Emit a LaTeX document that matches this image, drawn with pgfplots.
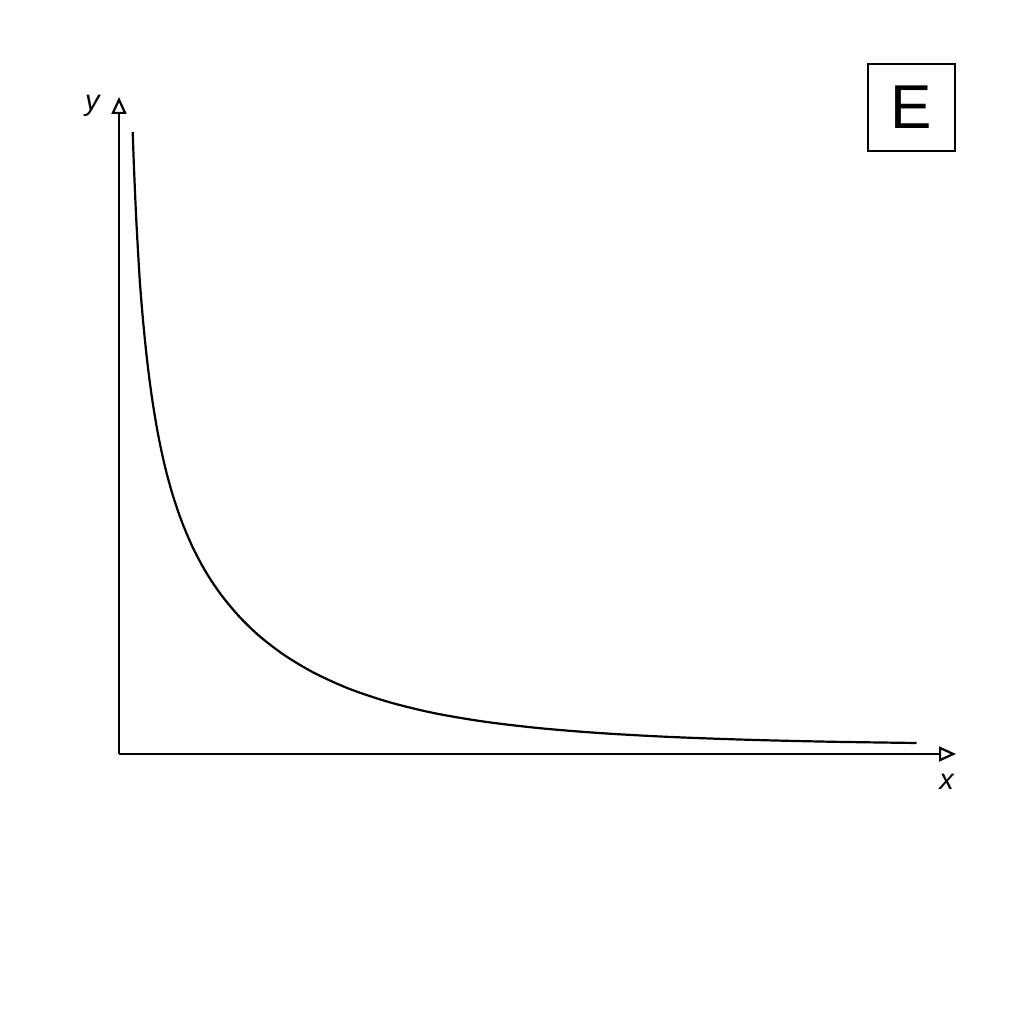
\documentclass[border=0pt]{standalone}
\usepackage{fontspec}
\setmainfont{Liberation Sans}
\usepackage{pgfplots}
\pgfplotsset{compat=1.18}
\usetikzlibrary{arrows.meta}
\begin{document}
\begin{tikzpicture}
\useasboundingbox (-59.5pt,-135pt) rectangle (452.5pt,377pt);
\begin{axis}[
  at={(0pt,0pt)}, anchor=south west,
  scale only axis, width=418.5pt, height=328.5pt,
  xmin=0, xmax=837, ymin=0, ymax=657,
  enlargelimits=false, clip=false,
  axis lines=left,
  axis line style={line width=1.1pt, -{Triangle[open, length=8.5pt, width=7.5pt, line width=1.1pt]}},
  xtick=\empty, ytick=\empty,
]
\addplot[black, line width=1.1pt, smooth, tension=0.5] coordinates {
(13.7,622) (15,586) (17,540) (19,503) (21,470.4) (24,433.9) (28,394.6) (33,356.0)
(39,320.0) (46,287.3) (54,258.1) (63,231.9) (74,206.1) (87,181.8) (102,159.4)
(120,137.7) (140,118.3) (165,99.1) (195,81.2) (230,65.3) (270,51.9) (315,40.9)
(365,32.4) (420,25.9) (480,21.0) (550,17.1) (630,14.2) (710,12.3) (797.5,11.0)
};
\node[font=\fontsize{14.5}{16}\selectfont\itshape] at (axis cs:-26.5,648) {y};
\node[font=\fontsize{14.5}{16}\selectfont\itshape] at (axis cs:827.5,-28) {x};
\node[draw, line width=1.1pt, minimum size=43.5pt, inner sep=0pt,
  font=\fontsize{31}{33}\selectfont] at (axis cs:792.5,646.5) {E};
\end{axis}
\end{tikzpicture}
\end{document}
